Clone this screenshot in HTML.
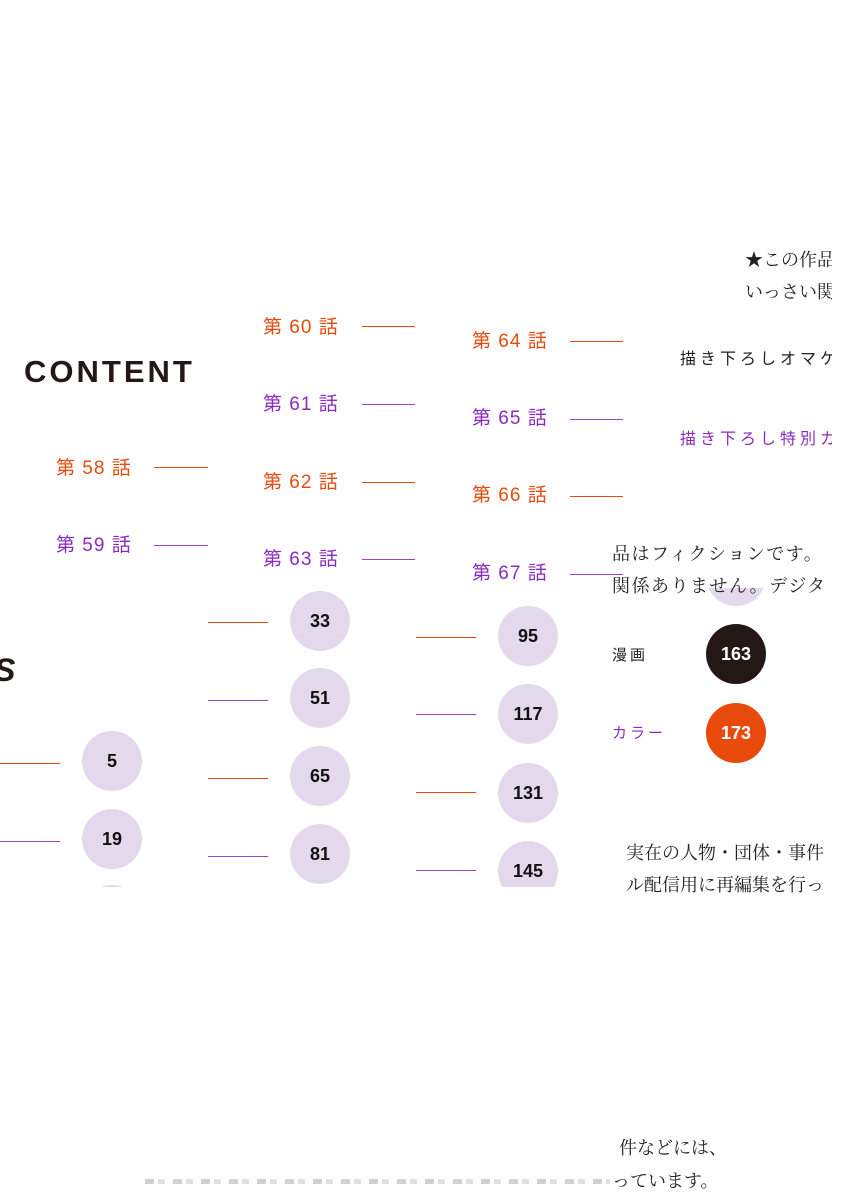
<!DOCTYPE html>
<html><head><meta charset="utf-8"><style>
body{margin:0;width:844px;height:1200px;background:#fff;position:relative;overflow:hidden;font-family:"Liberation Sans","Noto Sans CJK JP",sans-serif}
.a{position:absolute;white-space:nowrap}
.o{color:#e84a0c}.p{color:#8a2bc0}
.lb{font-size:19px;line-height:22px;letter-spacing:1px}
.ln{position:absolute;height:1px}
.lo{background:#e84a0c}.lp{background:#9a3fd0}
.c{position:absolute;width:60px;height:60px;border-radius:50%;background:#e4d8ec;font:bold 18px "Liberation Sans",sans-serif;text-align:center;line-height:60px;color:#111}
.s{font-family:"Liberation Serif","Noto Serif CJK JP","Noto Serif CJK SC",serif;font-size:18px;color:#222}
.k{font-size:15px;letter-spacing:4px}
</style></head><body>
<div class="a" style="left:24px;top:354px;font:bold 31px 'Liberation Sans',sans-serif;letter-spacing:3px;color:#231815">CONTENT</div>
<div class="a" style="left:-6px;top:652px;font:bold italic 32px 'Liberation Sans',sans-serif;color:#231815">S</div>

<div class="a lb o" style="left:56px;top:458px">第 58 話</div><div class="ln lo" style="left:154px;top:467px;width:54px"></div>
<div class="a lb p" style="left:56px;top:535px">第 59 話</div><div class="ln lp" style="left:154px;top:545px;width:54px"></div>

<div class="a lb o" style="left:263px;top:317px">第 60 話</div><div class="ln lo" style="left:362px;top:326px;width:53px"></div>
<div class="a lb p" style="left:263px;top:394px">第 61 話</div><div class="ln lp" style="left:362px;top:404px;width:53px"></div>
<div class="a lb o" style="left:263px;top:472px">第 62 話</div><div class="ln lo" style="left:362px;top:482px;width:53px"></div>
<div class="a lb p" style="left:263px;top:549px">第 63 話</div><div class="ln lp" style="left:362px;top:559px;width:53px"></div>

<div class="a lb o" style="left:472px;top:331px">第 64 話</div><div class="ln lo" style="left:570px;top:341px;width:53px"></div>
<div class="a lb p" style="left:472px;top:408px">第 65 話</div><div class="ln lp" style="left:570px;top:419px;width:53px"></div>
<div class="a lb o" style="left:472px;top:485px">第 66 話</div><div class="ln lo" style="left:570px;top:496px;width:53px"></div>
<div class="a lb p" style="left:472px;top:563px">第 67 話</div><div class="ln lp" style="left:570px;top:574px;width:53px"></div>

<div class="a s" style="left:745px;top:246px;width:87px;overflow:hidden">★この作品</div>
<div class="a s" style="left:745px;top:278px;width:87px;overflow:hidden">いっさい関</div>
<div class="a k" style="left:680px;top:345px;width:152px;overflow:hidden;color:#222;font-size:16px">描き下ろしオマケ</div>
<div class="a k p" style="left:680px;top:425px;width:152px;overflow:hidden;font-size:16px">描き下ろし特別カ</div>

<div style="position:absolute;left:0;top:588px;width:844px;height:299px;overflow:hidden">
<div class="c" style="left:706px;top:-42px"></div>
<div class="ln lo" style="left:0;top:175px;width:60px"></div><div class="c" style="left:82px;top:143px">5</div>
<div class="ln lp" style="left:0;top:253px;width:60px"></div><div class="c" style="left:82px;top:221px">19</div>
<div class="c" style="left:82px;top:297px"></div>
<div class="ln lo" style="left:208px;top:34px;width:60px"></div><div class="c" style="left:290px;top:3px">33</div>
<div class="ln lp" style="left:208px;top:112px;width:60px"></div><div class="c" style="left:290px;top:80px">51</div>
<div class="ln lo" style="left:208px;top:190px;width:60px"></div><div class="c" style="left:290px;top:158px">65</div>
<div class="ln lp" style="left:208px;top:268px;width:60px"></div><div class="c" style="left:290px;top:236px">81</div>
<div class="ln lo" style="left:416px;top:49px;width:60px"></div><div class="c" style="left:498px;top:18px">95</div>
<div class="ln lp" style="left:416px;top:126px;width:60px"></div><div class="c" style="left:498px;top:96px">117</div>
<div class="ln lo" style="left:416px;top:204px;width:60px"></div><div class="c" style="left:498px;top:175px">131</div>
<div class="ln lp" style="left:416px;top:282px;width:60px"></div><div class="c" style="left:498px;top:253px">145</div>
<div class="c" style="left:706px;top:36px;background:#231815;color:#fff">163</div>
<div class="c" style="left:706px;top:115px;background:#e84a0c;color:#fff">173</div>
<div class="a k" style="left:612px;top:56px;color:#222;letter-spacing:3px">漫画</div>
<div class="a k p" style="left:612px;top:134px;letter-spacing:3px">カラー</div>
</div>

<div class="a s" style="left:612px;top:540px;width:232px;overflow:hidden;letter-spacing:1.5px">品はフィクションです。</div>
<div class="a s" style="left:612px;top:572px;width:232px;overflow:hidden;letter-spacing:1.5px">関係ありません。デジタ</div>
<div class="a s" style="left:626px;top:839px;width:218px;overflow:hidden">実在の人物・団体・事件</div>
<div class="a s" style="left:626px;top:871px;width:218px;overflow:hidden">ル配信用に再編集を行っ</div>
<div class="a s" style="left:619px;top:1134px">件などには、</div>
<div class="a s" style="left:612px;top:1167px">っています。</div>
<div class="a" style="left:145px;top:1179px;width:465px;height:5px;overflow:hidden;background:repeating-linear-gradient(90deg,#999 0 9px,#fff 9px 13px,#bbb 13px 20px,#fff 20px 28px);opacity:.45"></div>
</body></html>
